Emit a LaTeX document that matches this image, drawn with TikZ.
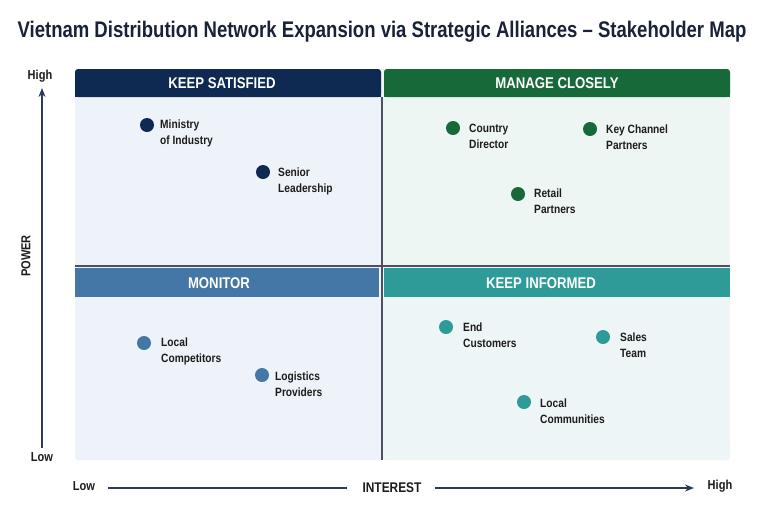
\documentclass[tikz,border=0pt]{standalone}
\usepackage{fontspec}
\setmainfont[FakeStretch=0.85]{Liberation Sans}
\newfontfamily\titlefont[FakeStretch=0.82]{Liberation Sans}
\usetikzlibrary{arrows.meta}
\definecolor{navy}{HTML}{0F2A52}
\definecolor{grn}{HTML}{17693A}
\definecolor{steel}{HTML}{4476A6}
\definecolor{teal2}{HTML}{2E9B98}
\definecolor{bodyA}{HTML}{EEF3FA}
\definecolor{bodyB}{HTML}{EEF6F4}
\definecolor{bodyC}{HTML}{EEF3F9}
\definecolor{bodyD}{HTML}{EEF5F6}
\definecolor{divider}{HTML}{4A5163}
\definecolor{titlec}{HTML}{1A2238}
\definecolor{txt}{HTML}{1C1C1C}
\definecolor{axisc}{HTML}{2A3A58}
\tikzset{
  hdrtext/.style={text=white, font=\bfseries\fontsize{15.5}{18}\selectfont},
  dotnode/.style={circle, minimum size=14pt, inner sep=0pt},
  lbl/.style={anchor=north west, align=left, text=txt, inner sep=0pt,
    font=\bfseries\fontsize{12}{15.5}\selectfont},
  axlbl/.style={text=txt, font=\bfseries\fontsize{13}{15}\selectfont},
}
\begin{document}
\begin{tikzpicture}[x=1pt,y=-1pt]
\useasboundingbox (0,0) rectangle (768,512);
\fill[white] (0,0) rectangle (768,512);
% title
\node[text=titlec, font=\titlefont\bfseries\fontsize{22.6}{26}\selectfont] (title) at (382,32) {Vietnam Distribution Network Expansion via Strategic Alliances – Stakeholder Map};
% bodies
\fill[bodyA, rounded corners=3pt] (75,69) rectangle (382,460);
\fill[bodyB, rounded corners=3pt] (382,69) rectangle (730,460);
\fill[bodyA] (75,69) rectangle (382,265);
\fill[bodyB] (382,69) rectangle (730,265);
\fill[bodyC] (75,267) rectangle (381,455);
\fill[bodyD] (383,267) rectangle (730,455);
\fill[bodyC,rounded corners=3pt] (75,440) rectangle (381,460);
\fill[bodyD,rounded corners=3pt] (383,440) rectangle (730,460);
\fill[bodyC] (75,440) rectangle (381,450);
\fill[bodyD] (383,440) rectangle (730,450);
% headers
\fill[navy, rounded corners=3pt] (75,69) rectangle (381,97);
\fill[navy] (75,85) rectangle (381,97);
\fill[grn, rounded corners=3pt] (384,69) rectangle (730,97);
\fill[grn] (384,85) rectangle (730,97);
\fill[steel] (75,268) rectangle (379,297);
\fill[teal2] (384,268) rectangle (730,297);
\node[hdrtext] (hks) at (222,83) {KEEP SATISFIED};
\node[hdrtext] (hmc) at (557,83) {MANAGE CLOSELY};
\node[hdrtext] (hmo) at (219,283) {MONITOR};
\node[hdrtext] (hki) at (541,283) {KEEP INFORMED};
% dividers
\draw[divider, line width=1.6pt] (75,266) -- (730,266);
\draw[divider, line width=1.6pt] (382,97) -- (382,460);
% stakeholders
\node[dotnode, fill=navy] (d1) at (147,125) {};
\node[lbl] (l1) at (160,120) {Ministry\\of Industry};
\node[dotnode, fill=navy] (d2) at (263,172) {};
\node[lbl] (l2) at (278,168) {Senior\\Leadership};
\node[dotnode, fill=grn] (d3) at (453,128) {};
\node[lbl] (l3) at (469,124) {Country\\Director};
\node[dotnode, fill=grn] (d4) at (590,129) {};
\node[lbl] (l4) at (606,125) {Key Channel\\Partners};
\node[dotnode, fill=grn] (d5) at (518,194) {};
\node[lbl] (l5) at (534,189) {Retail\\Partners};
\node[dotnode, fill=steel] (d6) at (144,343) {};
\node[lbl] (l6) at (161,338) {Local\\Competitors};
\node[dotnode, fill=steel] (d7) at (262,375) {};
\node[lbl] (l7) at (275,372) {Logistics\\Providers};
\node[dotnode, fill=teal2] (d8) at (446,327) {};
\node[lbl] (l8) at (463,323) {End\\Customers};
\node[dotnode, fill=teal2] (d9) at (603,337) {};
\node[lbl] (l9) at (620,333) {Sales\\Team};
\node[dotnode, fill=teal2] (d10) at (524,402) {};
\node[lbl] (l10) at (540,399) {Local\\Communities};
% vertical axis
\node[axlbl] (phigh) at (40,76) {High};
\node[axlbl] (plow) at (42,457) {Low};
\node[axlbl, rotate=90] (power) at (26,256) {POWER};
\coordinate (pbot) at (42,448);
\coordinate (ptop) at (42,88);
\draw[axisc, line width=1.3pt, -{Stealth[length=9pt,width=7pt]}] (pbot) -- (ptop);
% horizontal axis
\node[axlbl] (ilow) at (84,486) {Low};
\node[axlbl, font=\bfseries\fontsize{14}{16}\selectfont] (interest) at (392,488) {INTEREST};
\node[axlbl] (ihigh) at (720,486) {High};
\coordinate (hstart) at (108,488);
\coordinate (hend) at (694,488);
\draw[axisc, line width=1.3pt, shorten >=12pt] (hstart) -- (interest.west);
\draw[axisc, line width=1.3pt, shorten <=10pt, -{Stealth[length=9pt,width=7pt]}] (interest.east) -- (hend);
\end{tikzpicture}
\end{document}
